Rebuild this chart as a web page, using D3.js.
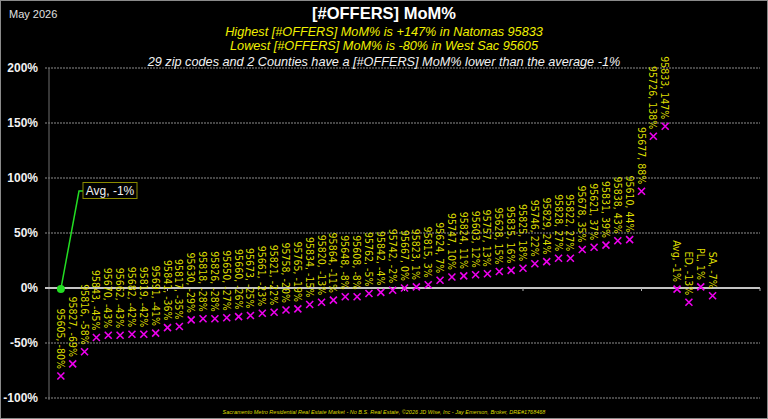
<!DOCTYPE html>
<html>
<head>
<meta charset="utf-8">
<script src="https://cdn.jsdelivr.net/npm/d3@7"></script>
<style>
  html, body { margin: 0; padding: 0; background: #000; }
  svg { display: block; }
</style>
</head>
<body>
<div id="chart"></div>
<script>
// Zip codes, sorted by MoM%
const zips = ["95605","95827","95816","95843","95670","95662","95682","95819","95691","95841",
    "95817","95630","95818","95826","95650","95660","95673","95661","95821","95758",
    "95765","95834","95820","95864","95648","95608","95762","95842","95742","95667",
    "95823","95815","95624","95747","95824","95603","95757","95628","95835","95825",
    "95746","95829","95828","95822","95678","95621","95831","95838","95610","95677",
    "95726","95833"];
const zipValues = [-80,-69,-58,-45,-43,-43,-42,-42,-41,-36,
    -35,-29,-28,-28,-27,-26,-25,-23,-22,-20,
    -19,-15,-13,-11,-8,-8,-5,-4,-2,0,
    1,3,7,10,11,12,13,15,16,18,
    22,24,27,27,35,37,39,43,44,88,
    138,147];

// Average and counties
const counties = ["Avg","ED","PL","SA"];
const countyValues = [-1,-13,1,-7];

const avgValue = -1;
const yTicks = [-100, -50, 0, 50, 100, 150, 200];
const xTicks = [10, 20, 30, 40, 50, 60];

const points = zips.map((z, i) => ({ name: z, value: zipValues[i] }))
    .concat(counties.map((c, i) => ({ name: c, value: countyValues[i] })));
points.forEach((d, i) => d.pos = i + 1);

const W = 768, H = 419;
const svg = d3.select("#chart").append("svg")
    .attr("width", W)
    .attr("height", H);

svg.append("rect")
    .attr("x", 0.5).attr("y", 0.5)
    .attr("width", W - 1).attr("height", H - 1)
    .attr("fill", "#000")
    .attr("stroke", "#8a8a8a");

const x = d3.scaleLinear().domain([0, 60]).range([49, 760]);
const y = d3.scaleLinear().domain([-100, 200]).range([398, 68]);

// Gridlines
svg.append("g")
    .selectAll("line")
    .data(yTicks.filter(t => t !== 0))
    .enter().append("line")
    .attr("x1", 45).attr("x2", x(60))
    .attr("y1", d => y(d)).attr("y2", d => y(d))
    .attr("stroke", "#8c8c8c")
    .attr("stroke-width", 1)
    .attr("stroke-dasharray", "2,1");

// Y axis line
svg.append("line")
    .attr("x1", x(0)).attr("x2", x(0))
    .attr("y1", y(200)).attr("y2", y(-100) + 2)
    .attr("stroke", "#6e6e6e");

// Y tick labels
svg.append("g")
    .selectAll("text")
    .data(yTicks)
    .enter().append("text")
    .attr("x", 38)
    .attr("y", d => y(d))
    .attr("dy", "0.36em")
    .attr("text-anchor", "end")
    .attr("fill", "#f2f2f2")
    .style("font", "bold 12px 'Liberation Sans', Arial, sans-serif")
    .text(d => d + "%");

// Zero line with ticks
svg.append("line")
    .attr("x1", 45).attr("x2", x(60))
    .attr("y1", y(0)).attr("y2", y(0))
    .attr("stroke", "#c4c4c4")
    .attr("stroke-width", 2);
svg.append("g")
    .selectAll("line")
    .data(xTicks)
    .enter().append("line")
    .attr("x1", d => x(d)).attr("x2", d => x(d))
    .attr("y1", y(0)).attr("y2", y(0) + 3)
    .attr("stroke", "#b0b0b0")
    .attr("stroke-width", 1);

// Markers
const s = 3.5;
svg.append("g")
    .selectAll("path")
    .data(points)
    .enter().append("path")
    .attr("d", d => {
        const cx = x(d.pos), cy = y(d.value);
        return `M${cx - s},${cy - s}L${cx + s},${cy + s}M${cx - s},${cy + s}L${cx + s},${cy - s}`;
    })
    .attr("stroke", "#ee00ee")
    .attr("stroke-width", 1.6)
    .attr("fill", "none");

// Point labels (narrowed along the text direction)
svg.append("g")
    .selectAll("text")
    .data(points)
    .enter().append("text")
    .attr("transform", d => `translate(${x(d.pos)},${y(d.value) - 7}) rotate(90) scale(0.86,1)`)
    .attr("text-anchor", "end")
    .attr("dy", "0.36em")
    .attr("fill", "#dede00")
    .style("font-family", "'DejaVu Sans', sans-serif")
    .style("font-size", "11px")
    .text(d => `${d.name}, ${d.value}%`);

// Average marker and callout
const ax = x(1), ay = y(avgValue);
svg.append("polyline")
    .attr("points", `${ax},${ay} ${79},${191} ${83},${191}`)
    .attr("fill", "none")
    .attr("stroke", "#22dd22")
    .attr("stroke-width", 1.5);
svg.append("circle")
    .attr("cx", ax).attr("cy", ay).attr("r", 4)
    .attr("fill", "#22dd22");
svg.append("rect")
    .attr("x", 83).attr("y", 182.5)
    .attr("width", 54).attr("height", 16)
    .attr("fill", "#000")
    .attr("stroke", "#8a8a00");
svg.append("text")
    .attr("x", 110).attr("y", 191)
    .attr("dy", "0.36em")
    .attr("text-anchor", "middle")
    .attr("fill", "#f2f2f2")
    .style("font", "12px 'Liberation Sans', Arial, sans-serif")
    .text(`Avg, ${avgValue}%`);

// Titles
svg.append("text")
    .attr("x", 9).attr("y", 18)
    .attr("fill", "#e0e0e0")
    .style("font", "11px 'Liberation Sans', Arial, sans-serif")
    .text("May 2026");
svg.append("text")
    .attr("x", 384).attr("y", 19)
    .attr("text-anchor", "middle")
    .attr("fill", "#fff")
    .style("font", "bold 16.5px 'Liberation Sans', Arial, sans-serif")
    .text("[#OFFERS] MoM%");

const subtitles = [
    { text: "Highest [#OFFERS] MoM% is +147% in Natomas 95833", y: 36, color: "#f0f000" },
    { text: "Lowest [#OFFERS] MoM% is -80% in West Sac 95605", y: 50, color: "#f0f000" },
    { text: "29 zip codes and 2 Counties have a [#OFFERS] MoM% lower than the average -1%", y: 66, color: "#f2f2f2" }
];
svg.append("g")
    .selectAll("text")
    .data(subtitles)
    .enter().append("text")
    .attr("x", 384)
    .attr("y", d => d.y)
    .attr("text-anchor", "middle")
    .attr("fill", d => d.color)
    .style("font", "italic 12.7px 'Liberation Sans', Arial, sans-serif")
    .text(d => d.text);

// Footer
svg.append("text")
    .attr("x", 384).attr("y", 414)
    .attr("text-anchor", "middle")
    .attr("fill", "#dede00")
    .style("font", "italic 5.5px 'Liberation Sans', Arial, sans-serif")
    .text("Sacramento Metro Residential Real Estate Market - No B.S. Real Estate, ©2026 JD Wise, Inc - Jay Emerson, Broker, DRE#1768468");
</script>
</body>
</html>
